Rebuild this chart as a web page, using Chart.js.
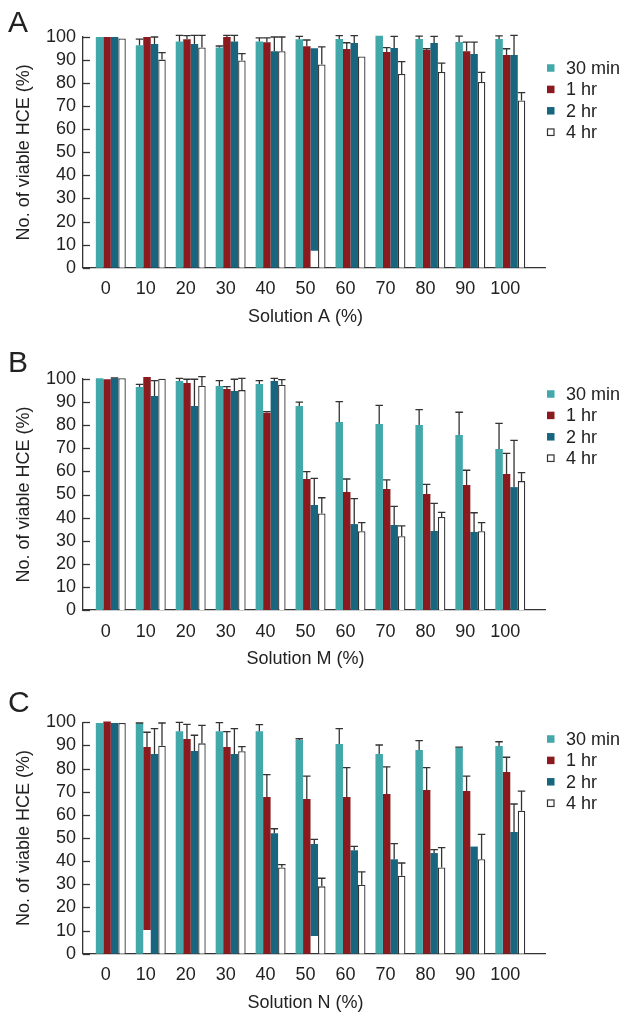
<!DOCTYPE html>
<html><head><meta charset="utf-8">
<script src="https://cdn.jsdelivr.net/npm/chart.js@4.4.1/dist/chart.umd.min.js"></script>
<style>
html,body{margin:0;padding:0;background:#fff;width:624px;height:1015px;overflow:hidden}
canvas{position:absolute;left:0}
</style></head><body>
<canvas id="cA" width="624" height="330" style="top:0px"></canvas>
<canvas id="cB" width="624" height="345" style="top:330px"></canvas>
<canvas id="cC" width="624" height="340" style="top:675px"></canvas>
<script>
const categories = ['0','10','20','30','40','50','60','70','80','90','100'];
const seriesNames = ['30 min','1 hr','2 hr','4 hr'];
const yTickValues = [0,10,20,30,40,50,60,70,80,90,100];

// Panel A (Solution A)
const A_30min = [100, 96.4, 98.1, 95.5, 98.1, 99.0, 99.1, 100.5, 99.1, 97.8, 99.1];
const A_30min_err = [0, 2.7, 2.6, 0.6, 1.5, 1.3, 1.5, 0, 1.3, 2.6, 1.4];
const A_1hr = [100, 100, 99.0, 100, 97.7, 96.0, 94.8, 93.5, 94.4, 93.8, 92.2];
const A_1hr_err = [0, 0, 1.6, 0.7, 1.9, 2.7, 2.7, 1.9, 0.5, 4.0, 2.7];
const A_2hr = [100, 97.0, 97.0, 98.1, 93.8, 95.1, 97.4, 95.2, 97.4, 92.6, 92.2];
const A_2hr_err = [0, 3.0, 3.7, 2.6, 6.2, 0, 3.2, 5.1, 2.9, 5.2, 8.5];
const A_2hr_base = [0, 0, 0, 0, 0, 7.4, 0, 0, 0, 0, 0];
const A_4hr = [99.4, 90.2, 95.5, 89.8, 93.8, 88.1, 91.6, 84.0, 84.8, 80.5, 72.5];
const A_4hr_err = [0, 3.0, 5.2, 3.0, 6.2, 7.6, 0, 5.3, 3.9, 4.2, 3.4];

// Panel B (Solution M)
const B_30min = [100.3, 96.5, 99.1, 97.0, 97.8, 88.3, 81.4, 80.5, 80.1, 75.8, 69.7];
const B_30min_err = [0, 1.2, 1.2, 2.3, 1.5, 1.7, 8.8, 8.1, 6.6, 9.8, 11.1];
const B_1hr = [99.9, 100.9, 98.3, 95.7, 85.4, 56.7, 51.1, 52.4, 50.2, 54.1, 58.9];
const B_1hr_err = [0, 0, 1.6, 1.0, 0.5, 3.2, 5.6, 3.9, 4.2, 6.4, 8.9];
const B_2hr = [100.3, 92.6, 88.3, 94.8, 99.1, 45.5, 37.2, 36.8, 34.2, 33.8, 53.2];
const B_2hr_err = [0.2, 6.7, 11.6, 5.1, 1.2, 11.5, 11.0, 8.1, 12.0, 8.3, 20.2];
const B_4hr = [100.3, 100.1, 97.1, 95.2, 97.5, 41.8, 34.1, 31.9, 40.3, 34.1, 55.8];
const B_4hr_err = [0, 0, 3.9, 5.1, 2.2, 6.8, 3.7, 4.5, 2.0, 3.7, 3.7];

// Panel C (Solution N)
const C_30min = [99.7, 99.6, 96.1, 96.1, 96.1, 92.4, 90.6, 86.3, 88.0, 89.1, 89.8];
const C_30min_err = [0, 0.1, 3.9, 3.8, 2.9, 0.5, 6.7, 3.9, 4.1, 0.2, 1.8];
const C_1hr = [100.3, 89.3, 92.8, 89.3, 67.7, 66.9, 67.7, 69.0, 70.7, 70.3, 78.5];
const C_1hr_err = [0, 6.4, 6.3, 6.7, 9.7, 9.8, 12.7, 11.7, 9.7, 6.4, 6.4];
const C_1hr_base = [0, 10.2, 0, 0, 0, 0, 0, 0, 0, 0, 0];
const C_2hr = [99.7, 86.3, 87.6, 86.3, 52.0, 47.4, 44.7, 40.8, 43.5, 46.3, 52.6];
const C_2hr_err = [0, 11.0, 6.8, 11.0, 2.0, 2.0, 1.7, 6.8, 1.5, 0, 12.1];
const C_2hr_base = [0, 0, 0, 0, 0, 7.6, 0, 0, 0, 0, 0];
const C_4hr = [99.7, 89.9, 90.9, 87.5, 37.3, 29.1, 29.8, 33.7, 37.3, 40.8, 61.8];
const C_4hr_err = [0, 9.8, 7.8, 2.0, 1.2, 3.5, 5.6, 5.5, 8.5, 10.8, 8.5];

const COLORS = ['#42A8AA', '#8B1A1F', '#18657F', '#FFFFFF'];
const INK = '#222';
const FONT = '"Liberation Sans", Arial, Helvetica, sans-serif';
Chart.defaults.font.family = FONT;
Chart.defaults.font.size = 18;
Chart.defaults.color = INK;

const panels = [
  {id:'cA', H:330, letter:'A', letterBase:32, xTitle:'Solution A (%)', top:37, axis:267.7, legendTop:68,
   series:[A_30min, A_1hr, A_2hr, A_4hr], errs:[A_30min_err, A_1hr_err, A_2hr_err, A_4hr_err], bases:[null, null, A_2hr_base, null]},
  {id:'cB', H:345, letter:'B', letterBase:41.5, xTitle:'Solution M (%)', top:49, axis:280, legendTop:64,
   series:[B_30min, B_1hr, B_2hr, B_4hr], errs:[B_30min_err, B_1hr_err, B_2hr_err, B_4hr_err], bases:[null, null, null, null]},
  {id:'cC', H:340, letter:'C', letterBase:37, xTitle:'Solution N (%)', top:47.3, axis:278.7, legendTop:64,
   series:[C_30min, C_1hr, C_2hr, C_4hr], errs:[C_30min_err, C_1hr_err, C_2hr_err, C_4hr_err], bases:[null, C_1hr_base, C_2hr_base, null]}
];

function makePanel(p) {
  const datasets = p.series.map((vals, k) => ({
    label: seriesNames[k],
    data: vals.map((v, i) => ({x: i, y: (p.bases[k] && p.bases[k][i]) ? [p.bases[k][i], v] : v})),
    errors: p.errs[k],
    backgroundColor: COLORS[k],
    borderColor: k === 3 ? '#333' : COLORS[k],
    borderWidth: k === 3 ? 1.3 : 0,
    categoryPercentage: 0.75,
    barPercentage: 1.0,
    clip: false
  }));

  const deco = {
    id: 'deco' + p.letter,
    afterDatasetsDraw(chart) {
      const ctx = chart.ctx, ys = chart.scales.y;
      ctx.save();
      ctx.strokeStyle = '#333';
      ctx.lineWidth = 1.3;
      chart.data.datasets.forEach((ds, k) => {
        const meta = chart.getDatasetMeta(k);
        meta.data.forEach((el, i) => {
          const e = ds.errors[i];
          if (!e) return;
          const parsed = meta._parsed[i];
          const topVal = parsed.y;
          const yTop = ys.getPixelForValue(topVal + e);
          const w = el.width;
          ctx.beginPath();
          ctx.moveTo(el.x, el.y);
          ctx.lineTo(el.x, yTop);
          ctx.moveTo(el.x - w / 2, yTop);
          ctx.lineTo(el.x + w / 2, yTop);
          ctx.stroke();
        });
      });
      ctx.restore();
    },
    afterDraw(chart) {
      const ctx = chart.ctx, ys = chart.scales.y, xs = chart.scales.x, ca = chart.chartArea;
      ctx.save();
      // inward y tick marks
      ctx.strokeStyle = '#333';
      ctx.lineWidth = 1.3;
      yTickValues.forEach(v => {
        const y = Math.round(ys.getPixelForValue(v)) + 0.5;
        ctx.beginPath();
        ctx.moveTo(ca.left, y);
        ctx.lineTo(ca.left + 7, y);
        ctx.stroke();
      });
      // x axis title
      ctx.fillStyle = INK;
      ctx.font = '18px ' + FONT;
      ctx.textAlign = 'center';
      ctx.textBaseline = 'middle';
      const cx = (xs.getPixelForValue(0) + xs.getPixelForValue(categories.length - 1)) / 2 - 5;
      ctx.fillText(p.xTitle, cx, p.axis + 49);
      // panel letter
      ctx.font = '30px ' + FONT;
      ctx.textAlign = 'left';
      ctx.textBaseline = 'alphabetic';
      ctx.fillText(p.letter, 8, p.letterBase);
      // legend
      ctx.font = '18px ' + FONT;
      ctx.textBaseline = 'middle';
      chart.data.datasets.forEach((ds, k) => {
        const yc = p.legendTop + k * 21.4;
        const sx = 547, s = 7.5;
        ctx.fillStyle = COLORS[k];
        ctx.fillRect(sx, yc - s / 2, s, s);
        if (k === 3) {
          ctx.strokeStyle = '#333';
          ctx.lineWidth = 1.2;
          ctx.strokeRect(sx + 0.5, yc - s / 2 + 0.5, s - 1, s - 1);
        }
        ctx.fillStyle = INK;
        ctx.fillText(ds.label, 566, yc + 1);
      });
      ctx.restore();
    }
  };

  new Chart(document.getElementById(p.id), {
    type: 'bar',
    data: {datasets},
    options: {
      responsive: false,
      animation: false,
      devicePixelRatio: 1,
      layout: {padding: {left: 0, right: 79, top: p.top, bottom: 0}},
      plugins: {legend: {display: false}, tooltip: {enabled: false}, title: {display: false}},
      scales: {
        x: {
          type: 'linear',
          bounds: 'data',
          min: -0.696,
          max: 10.869,
          offset: false,
          afterBuildTicks: s => { s.ticks = categories.map((c, i) => ({value: i})); },
          afterFit: s => { s.height = p.H - p.axis; },
          ticks: {callback: v => categories[v], labelOffset: -5, padding: 11, maxRotation: 0, autoSkip: false, color: INK, font: {size: 18}},
          grid: {display: false, drawTicks: false},
          border: {display: true, color: '#333', width: 1.3}
        },
        y: {
          min: 0, max: 100,
          afterBuildTicks: s => { s.ticks = yTickValues.map(v => ({value: v})); },
          afterFit: s => { s.width = 83; },
          ticks: {autoSkip: false, padding: 7, color: INK, font: {size: 18}},
          grid: {display: false, drawTicks: false},
          border: {display: true, color: '#333', width: 1.3},
          title: {display: true, text: 'No. of viable HCE (%)', color: INK, font: {size: 18}, padding: {top: 13, bottom: 0}}
        }
      }
    },
    plugins: [deco]
  });
}
panels.forEach(makePanel);
</script>
</body></html>
